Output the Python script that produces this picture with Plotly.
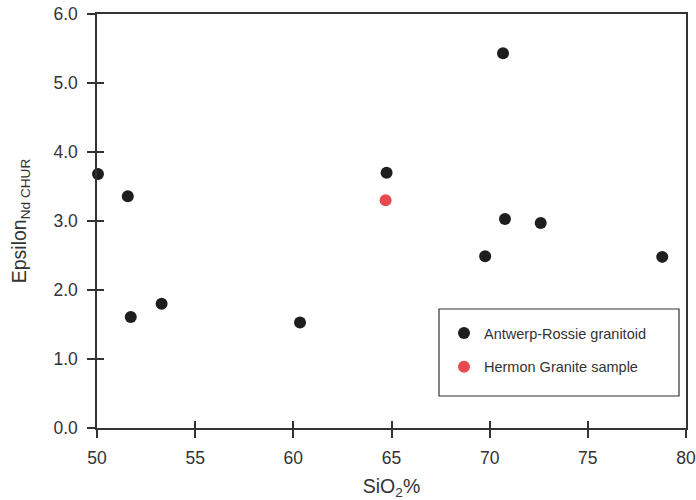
import plotly.graph_objects as go

# Antwerp-Rossie granitoid samples
ar_sio2 = [50.05, 51.57, 51.72, 53.29, 60.34, 64.75, 69.77, 70.68, 70.78, 72.60, 78.79]
ar_eps = [3.68, 3.36, 1.61, 1.80, 1.53, 3.70, 2.49, 5.43, 3.03, 2.97, 2.48]

# Hermon Granite sample
hg_sio2 = [64.70]
hg_eps = [3.30]

x_ticks = [50, 55, 60, 65, 70, 75, 80]
y_ticks = [0, 1, 2, 3, 4, 5, 6]

FONT = "Liberation Sans, Arial, sans-serif"
AXC = "#333333"

W, H = 696, 500
ML, MR, MT, MB = 97, 10, 14, 72
PW, PH = W - ML - MR, H - MT - MB

fig = go.Figure()
fig.add_trace(go.Scatter(
    x=ar_sio2, y=ar_eps, mode="markers", name="Antwerp-Rossie granitoid",
    marker=dict(size=12, color="#1e1e1e"), legendgroup="a", cliponaxis=False))
fig.add_trace(go.Scatter(
    x=hg_sio2, y=hg_eps, mode="markers", name="Hermon Granite sample",
    marker=dict(size=12, color="#e84a4f"), legendgroup="b", cliponaxis=False))
# invisible trace for inner tick overlay axes
fig.add_trace(go.Scatter(x=[50], y=[0], xaxis="x2", yaxis="y2", mode="markers",
                         marker=dict(opacity=0), showlegend=False, hoverinfo="skip"))

common = dict(showgrid=False, zeroline=False, linecolor=AXC, linewidth=1.5,
              tickcolor=AXC, tickwidth=1.5, automargin=False, ticklabeloverflow="allow",
              tickfont=dict(family=FONT, size=17.5, color=AXC))

fig.update_layout(
    width=W, height=H,
    margin=dict(l=ML, r=MR, t=MT, b=MB),
    paper_bgcolor="white", plot_bgcolor="white",
    font=dict(family=FONT, color=AXC),
    xaxis=dict(range=[50, 80], tickvals=x_ticks, ticks="outside", ticklen=8,
               mirror=True, showline=True, ticklabelstandoff=5,
               title=dict(text="SiO<sub>2</sub>%", font=dict(family=FONT, size=19.5, color=AXC), standoff=14),
               **common),
    yaxis=dict(range=[0, 6], tickvals=y_ticks, tickformat=".1f", ticks="outside", ticklen=8,
               mirror=True, showline=True, ticklabelstandoff=6,
               title=dict(text="Epsilon<sub>Nd CHUR</sub>", font=dict(family=FONT, size=19.5, color=AXC), standoff=22),
               **common),
    xaxis2=dict(range=[50, 80], tickvals=x_ticks, ticks="inside", ticklen=7, overlaying="x",
                showticklabels=False, showgrid=False, zeroline=False, showline=False,
                tickcolor=AXC, tickwidth=1.5, anchor="y2", automargin=False),
    yaxis2=dict(range=[0, 6], tickvals=y_ticks, ticks="inside", ticklen=7, overlaying="y",
                showticklabels=False, showgrid=False, zeroline=False, showline=False,
                tickcolor=AXC, tickwidth=1.5, anchor="x2", automargin=False),
    legend=dict(x=(444 - ML) / PW, y=(H - MB - 317) / PH, xanchor="left", yanchor="top",
                bgcolor="rgba(0,0,0,0)", borderwidth=0, tracegroupgap=12,
                font=dict(family=FONT, size=14.5, color=AXC)),
    shapes=[dict(type="rect", xref="paper", yref="paper",
                 x0=(439 - ML) / PW, x1=(679 - ML) / PW,
                 y0=(H - MB - 396) / PH, y1=(H - MB - 309) / PH,
                 line=dict(color=AXC, width=1.2), fillcolor="rgba(0,0,0,0)")],
)

fig.write_html("out.html")
